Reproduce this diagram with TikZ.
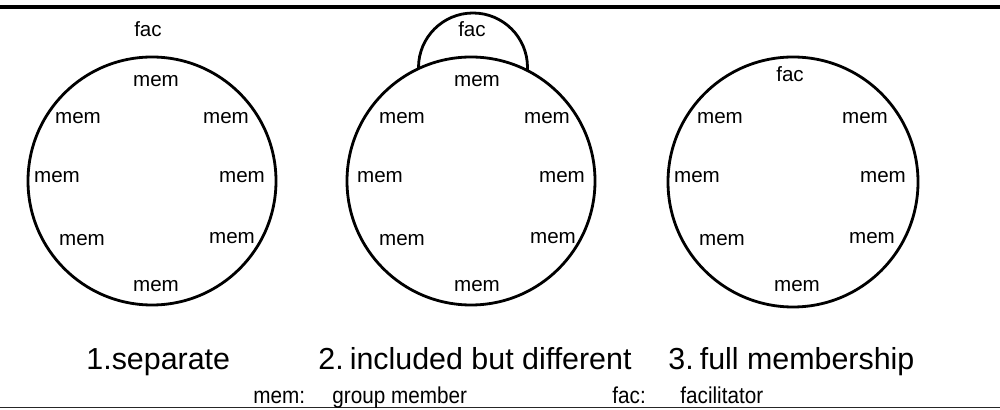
\documentclass[tikz,border=0pt]{standalone}
\usepackage{fontspec}
\setmainfont{Liberation Sans}
\newcommand{\legnarrow}[1]{\scalebox{0.9}[1]{#1}}
\begin{document}
\begin{tikzpicture}[x=0.5pt,y=-0.5pt,
  ring/.style={draw=black,line width=1.4pt,fill=white,circle,inner sep=0pt},
  lbl/.style={anchor=base,inner sep=0pt,font=\fontsize{10.3pt}{12pt}\selectfont},
  captext/.style={anchor=base west,inner sep=0pt,font=\fontsize{15.2pt}{18pt}\selectfont},
  legtext/.style={anchor=base west,inner sep=0pt,font=\fontsize{11.5pt}{13pt}\selectfont},
  rulerline/.style={draw=black,line width=2pt}]
\useasboundingbox (0,0) rectangle (1000,410);
% rules
\coordinate (tl) at (0,7.5); \coordinate (tr) at (1000,7.5);
\coordinate (bl) at (0,407.5); \coordinate (br) at (1000,407.5);
\draw[rulerline] (tl) -- (tr);
\draw[draw=black!85,line width=0.8pt] (bl) -- (br);
% panel 1
\node[ring,minimum size=124pt] (c1) at (152,181) {};
\node[lbl] (f1) at (148,37) {fac};
\node[lbl] (a1) at (156,87) {mem};
\node[lbl] (b1) at (78,124) {mem};
\node[lbl] (c1r) at (226,124) {mem};
\node[lbl] (d1) at (57,183) {mem};
\node[lbl] (e1) at (242,183) {mem};
\node[lbl] (g1) at (82,246) {mem};
\node[lbl] (h1) at (232,244) {mem};
\node[lbl] (i1) at (156,292) {mem};
% panel 2
\node[ring,minimum size=54.5pt] (s2) at (473,67.5) {};
\node[ring,minimum size=124pt] (c2) at (471,181) {};
\node[lbl] (f2) at (472,37) {fac};
\node[lbl] (a2) at (477,87) {mem};
\node[lbl] (b2) at (402,124) {mem};
\node[lbl] (c2r) at (547,124) {mem};
\node[lbl] (d2) at (380,183) {mem};
\node[lbl] (e2) at (562,183) {mem};
\node[lbl] (g2) at (402,246) {mem};
\node[lbl] (h2) at (553,244) {mem};
\node[lbl] (i2) at (477,292) {mem};
% panel 3
\node[ring,minimum size=125pt] (c3) at (793,182) {};
\node[lbl] (f3) at (790,82) {fac};
\node[lbl] (b3) at (720,124) {mem};
\node[lbl] (c3r) at (865,124) {mem};
\node[lbl] (d3) at (697,183) {mem};
\node[lbl] (e3) at (883,183) {mem};
\node[lbl] (g3) at (722,246) {mem};
\node[lbl] (h3) at (872,244) {mem};
\node[lbl] (i3) at (797,292) {mem};
% captions
\node[captext] (t1) at (86,370) {1.separate};
\node[captext] (t2) at (318,370) {2.\hspace{0.2em}included but different};
\node[captext] (t3) at (668,370) {3.\hspace{0.2em}full membership};
% legend
\node[legtext] (l1) at (253,404) {\legnarrow{mem:}};
\node[legtext] (l2) at (332,404) {\legnarrow{group member}};
\node[legtext] (l3) at (612,404) {\legnarrow{fac:}};
\node[legtext] (l4) at (680,404) {\legnarrow{facilitator}};
\end{tikzpicture}
\end{document}
